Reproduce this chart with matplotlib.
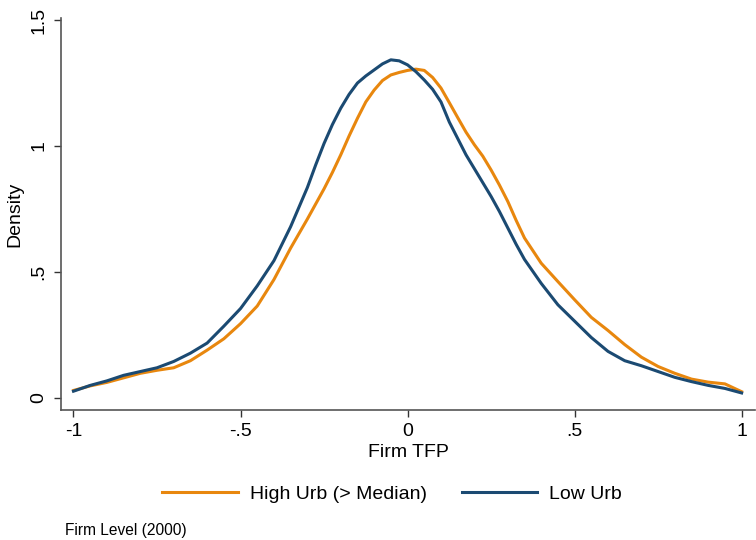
import numpy as np
import matplotlib
matplotlib.use('Agg')
import matplotlib.pyplot as plt

plt.rcParams['font.family'] = ['Liberation Sans', 'DejaVu Sans']

## Kernel density values (finer steps near the peak)

tfp = [-1.00, -0.95, -0.90, -0.85, -0.80, -0.75, -0.70, -0.65, -0.60, -0.55,
       -0.50, -0.45, -0.40, -0.35, -0.30,
       -0.275, -0.25, -0.225, -0.20, -0.175, -0.15, -0.125, -0.10, -0.075, -0.05,
       -0.025, 0.00, 0.025, 0.05, 0.075, 0.10, 0.125, 0.15, 0.175, 0.20,
       0.225, 0.25, 0.275, 0.30, 0.325, 0.35,
       0.40, 0.45, 0.50, 0.55, 0.60, 0.65, 0.70, 0.75, 0.80, 0.85, 0.90, 0.95, 1.00]

high_urb = [0.030, 0.048, 0.062, 0.080, 0.098, 0.110, 0.120, 0.148, 0.190, 0.235,
            0.295, 0.365, 0.470, 0.595, 0.710,
            0.770, 0.830, 0.895, 0.965, 1.040, 1.110, 1.175, 1.222, 1.260, 1.282,
            1.292, 1.300, 1.305, 1.300, 1.272, 1.230, 1.172, 1.113, 1.055, 1.005,
            0.960, 0.905, 0.845, 0.780, 0.705, 0.635,
            0.535, 0.462, 0.390, 0.320, 0.268, 0.212, 0.162, 0.125, 0.098, 0.075, 0.063, 0.056, 0.025]

low_urb = [0.027, 0.050, 0.068, 0.090, 0.105, 0.120, 0.145, 0.178, 0.218, 0.285,
           0.355, 0.445, 0.545, 0.680, 0.835,
           0.925, 1.010, 1.085, 1.150, 1.205, 1.250, 1.278, 1.302, 1.326, 1.342,
           1.338, 1.322, 1.295, 1.262, 1.225, 1.175, 1.095, 1.030, 0.965, 0.910,
           0.855, 0.800, 0.740, 0.675, 0.610, 0.550,
           0.455, 0.370, 0.305, 0.240, 0.185, 0.148, 0.128, 0.105, 0.082, 0.065, 0.050, 0.038, 0.020]

labels = ['High Urb (> Median)', 'Low Urb']
colors = ['#E8870E', '#1B4A72']

xticks = [-1, -0.5, 0, 0.5, 1]
xticklabels = ['-1', '-.5', '0', '.5', '1']
yticks = [0, 0.5, 1, 1.5]
yticklabels = ['0', '.5', '1', '1.5']

fig = plt.figure(figsize=(7.56, 5.4), dpi=100)
ax = fig.add_axes([61 / 756, 1 - 410 / 540, (755 - 61) / 756, (410 - 18) / 540])

l1, = ax.plot(tfp, high_urb, color=colors[0], lw=2.2, label=labels[0],
              solid_joinstyle='round')
l2, = ax.plot(tfp, low_urb, color=colors[1], lw=2.2, label=labels[1],
              solid_joinstyle='round')

ax.set_xlim(-1.0374, 1.040)
ax.set_ylim(-0.0476, 1.508)

for s in ['top', 'right']:
    ax.spines[s].set_visible(False)
for s in ['left', 'bottom']:
    ax.spines[s].set_color('#555555')
    ax.spines[s].set_linewidth(1.2)

ax.set_xticks(xticks)
ax.set_xticklabels(xticklabels)
ax.set_yticks(yticks)
ax.set_yticklabels(yticklabels, rotation=90, va='center')
ax.tick_params(axis='both', length=5, width=1, color='#333333', labelsize=14)
ax.tick_params(axis='x', pad=4)
ax.tick_params(axis='y', pad=5)

ax.set_xlabel('Firm TFP', fontsize=14, labelpad=3)
ax.set_ylabel('Density', fontsize=14, labelpad=5)

fig.legend(handles=[l1, l2], loc='center', bbox_to_anchor=(392 / 756, 1 - 494 / 540),
           ncol=2, frameon=False, fontsize=14, handlelength=3.9, handletextpad=0.6,
           columnspacing=1.8)

fig.text(65 / 756, 1 - 530 / 540, 'Firm Level (2000)', fontsize=11.2, va='center', ha='left')

fig.savefig('out.png', dpi=100)
